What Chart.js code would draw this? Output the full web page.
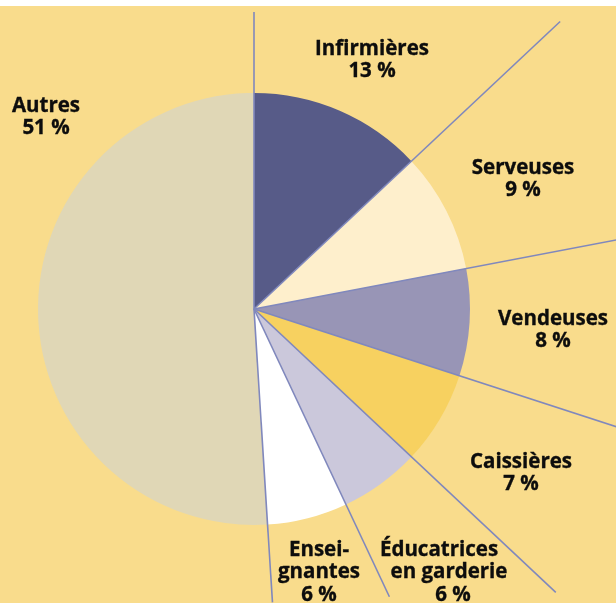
<!DOCTYPE html>
<html>
<head>
<meta charset="utf-8">
<script src="https://cdn.jsdelivr.net/npm/chart.js@4"></script>
<style>
html,body{margin:0;padding:0;background:#fff;}
canvas{display:block;}
</style>
</head>
<body>
<canvas id="c" width="616" height="603"></canvas>
<script>
// Data
const categories = ['Infirmières', 'Serveuses', 'Vendeuses', 'Caissières', 'Éducatrices en garderie', 'Enseignantes', 'Autres'];
const labelLines = [['Infirmières'], ['Serveuses'], ['Vendeuses'], ['Caissières'], ['Éducatrices', 'en garderie'], ['Ensei-', 'gnantes'], ['Autres']];
const shares = [13, 9, 8, 7, 6, 6, 51];

const sliceColors = ['#575B88', '#FEEFCC', '#9895B6', '#F7D160', '#CBC8DB', '#FFFFFF', '#E0D7B6'];
const bgColor = '#F9DC8C';
const lineColor = '#8088BD';

// label anchor: center x, first baseline y
const labelPos = [[372, 55], [523, 174], [553, 325], [521, 468], [444, 556], [319, 556], [46, 112]];
// per-line horizontal shifts (px) for labels whose lines are not on one axis
const lineShift = [null, null, null, null, [-5, 5, 9], null, null];
// separator extension length (from center) at the start of each slice
const sepLen = [297, 420, 500, 500, 414, 318, 294];

const bgPlugin = {
  id: 'bg',
  beforeDraw(chart) {
    const ctx = chart.ctx;
    ctx.save();
    ctx.fillStyle = '#FFFFFF';
    ctx.fillRect(0, 0, chart.width, chart.height);
    ctx.fillStyle = bgColor;
    ctx.fillRect(0, 6, chart.width, chart.height - 6);
    ctx.restore();
  }
};

const sepPlugin = {
  id: 'sep',
  afterDatasetsDraw(chart) {
    const ctx = chart.ctx;
    const meta = chart.getDatasetMeta(0);
    ctx.save();
    ctx.strokeStyle = lineColor;
    ctx.lineWidth = 1.6;
    meta.data.forEach((arc, i) => {
      const a = arc.startAngle;
      const L = sepLen[i];
      ctx.beginPath();
      ctx.moveTo(arc.x, arc.y);
      ctx.lineTo(arc.x + L * Math.cos(a), arc.y + L * Math.sin(a));
      ctx.stroke();
    });
    ctx.restore();
  }
};

const labelPlugin = {
  id: 'lbl',
  afterDraw(chart) {
    const ctx = chart.ctx;
    ctx.save();
    ctx.fillStyle = '#0d0d0d';
    ctx.strokeStyle = '#0d0d0d';
    ctx.lineWidth = 0.35;
    ctx.font = 'bold 20.5px "Open Sans"';
    ctx.textAlign = 'center';
    ctx.textBaseline = 'alphabetic';
    const lh = 22.3;
    labelLines.forEach((lines, i) => {
      const [x, y] = labelPos[i];
      const all = lines.concat([shares[i] + ' %']);
      all.forEach((t, k) => {
        const dx = lineShift[i] ? lineShift[i][k] : 0;
        ctx.fillText(t, x + dx, y + k * lh);
        ctx.strokeText(t, x + dx, y + k * lh);
      });
    });
    ctx.restore();
  }
};

new Chart(document.getElementById('c'), {
  type: 'pie',
  data: {
    labels: categories,
    datasets: [{
      data: shares,
      backgroundColor: sliceColors,
      borderWidth: 0
    }]
  },
  options: {
    responsive: false,
    animation: false,
    layout: { padding: { left: 38, top: 93, right: 146, bottom: 78 } },
    plugins: { legend: { display: false }, tooltip: { enabled: false } }
  },
  plugins: [bgPlugin, sepPlugin, labelPlugin]
});
</script>
</body>
</html>
